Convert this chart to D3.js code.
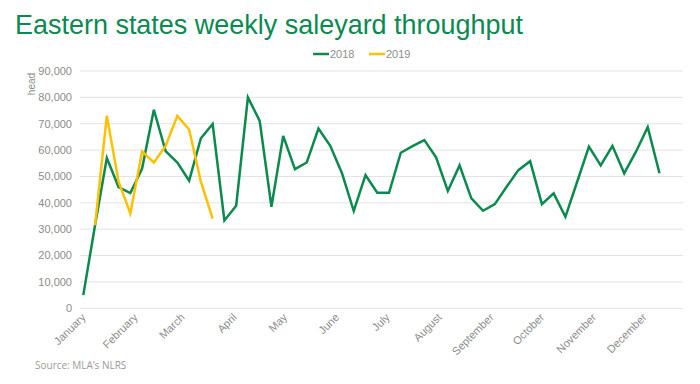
<!DOCTYPE html>
<html>
<head>
<meta charset="utf-8">
<script src="https://cdn.jsdelivr.net/npm/d3@7"></script>
<style>
  html, body { margin: 0; padding: 0; background: #fff; }
  svg { display: block; }
</style>
</head>
<body>
<svg id="chart" width="700" height="384"></svg>
<script>
// ---- data ----
const seriesNames = ["2018", "2019"];
const firstWeek = "2018-01-01";           // week 0 of the category (date) axis
const axisEnd = "2018-12-24";             // end of the date axis
const values2018 = [5000, 31500, 57000, 46000, 43700, 53000, 75300, 59600, 55300, 48400,
                    64500, 69900, 33300, 38900, 80000, 71100, 38500, 65400, 52800, 55300,
                    68200, 61600, 51200, 36900, 50500, 43800, 43800, 59000, 61500, 63800,
                    57300, 44500, 54200, 41700, 37000, 39500, 46100, 52400, 55800, 39500,
                    43600, 34700, 48000, 61300, 54200, 61600, 51200, 59400, 68700, 51200];
const values2019 = [null, 31500, 73000, 48000, 36000, 59500, 55300, 61600, 73000, 67800, 48000, 34000];
const yTicks = [0, 10000, 20000, 30000, 40000, 50000, 60000, 70000, 80000, 90000];
const monthLabels = ["January","February","March","April","May","June","July","August","September","October","November","December"];

// ---- styles ----
const GREEN = "#0b8a4e";
const YELLOW = "#ffc000";
const GREY = "#8c8c8c";
const GRID = "#e3e3e3";
const colors = [GREEN, YELLOW];

const svg = d3.select("#chart");
const parse = d3.timeParse("%Y-%m-%d");
const start = parse(firstWeek);
const weekDate = i => d3.timeDay.offset(start, 7 * i);

const x = d3.scaleTime().domain([start, parse(axisEnd)]).range([83.3, 683]);
const y = d3.scaleLinear().domain([0, 90000]).range([308.3, 71]);

// title
svg.append("text")
  .attr("x", 15).attr("y", 34)
  .attr("font-family", "Liberation Sans, Arial, sans-serif")
  .attr("font-size", 27.5)
  .attr("fill", "#0a8a50")
  .attr("textLength", 508)
  .attr("lengthAdjust", "spacingAndGlyphs")
  .text("Eastern states weekly saleyard throughput");

// gridlines
svg.append("g").selectAll("line").data(yTicks).join("line")
  .attr("x1", 80).attr("x2", 683)
  .attr("y1", d => y(d)).attr("y2", d => y(d))
  .attr("stroke", GRID).attr("stroke-width", 1);

// y tick labels
svg.append("g").selectAll("text").data(yTicks).join("text")
  .attr("x", 72).attr("y", d => y(d))
  .attr("dy", "0.35em")
  .attr("text-anchor", "end")
  .attr("font-family", "Liberation Sans, Arial, sans-serif")
  .attr("font-size", 11)
  .attr("fill", GREY)
  .text(d => d3.format(",")(d));

// y axis title
svg.append("text")
  .attr("transform", "translate(35,84) rotate(-90)")
  .attr("text-anchor", "middle")
  .attr("font-family", "Liberation Sans, Arial, sans-serif")
  .attr("font-size", 10)
  .attr("fill", GREY)
  .text("head");

// x month labels
const months = d3.timeMonth.range(start, parse(axisEnd));
svg.append("g").selectAll("text").data(months).join("text")
  .attr("transform", (d) => `translate(${x(d) + 3},${318}) rotate(-45)`)
  .attr("text-anchor", "end")
  .attr("font-family", "Liberation Sans, Arial, sans-serif")
  .attr("font-size", 11)
  .attr("fill", GREY)
  .text((d, i) => monthLabels[i]);

// lines
const line = d3.line()
  .defined(d => d.v != null)
  .x(d => x(weekDate(d.i)))
  .y(d => y(d.v));

[values2018, values2019].forEach((vals, k) => {
  const pts = vals.map((v, i) => ({ i, v }));
  svg.append("path")
    .datum(pts)
    .attr("d", line)
    .attr("fill", "none")
    .attr("stroke", colors[k])
    .attr("stroke-width", 2.5)
    .attr("stroke-linejoin", "miter");
});

// legend
const legendX = [313, 369];
seriesNames.forEach((name, k) => {
  const g = svg.append("g").attr("transform", `translate(${legendX[k]},54)`);
  g.append("line").attr("x1", 0).attr("x2", 16).attr("y1", 0).attr("y2", 0)
    .attr("stroke", colors[k]).attr("stroke-width", 2.5);
  g.append("text").attr("x", 17).attr("y", 0).attr("dy", "0.35em")
    .attr("font-family", "Liberation Sans, Arial, sans-serif")
    .attr("font-size", 11).attr("fill", GREY)
    .text(name);
});

// source
svg.append("text")
  .attr("x", 35).attr("y", 369)
  .attr("font-family", "Open Sans, sans-serif")
  .attr("font-size", 10)
  .attr("fill", "#9a9a9a")
  .text("Source: MLA\u2019s NLRS");
</script>
</body>
</html>
